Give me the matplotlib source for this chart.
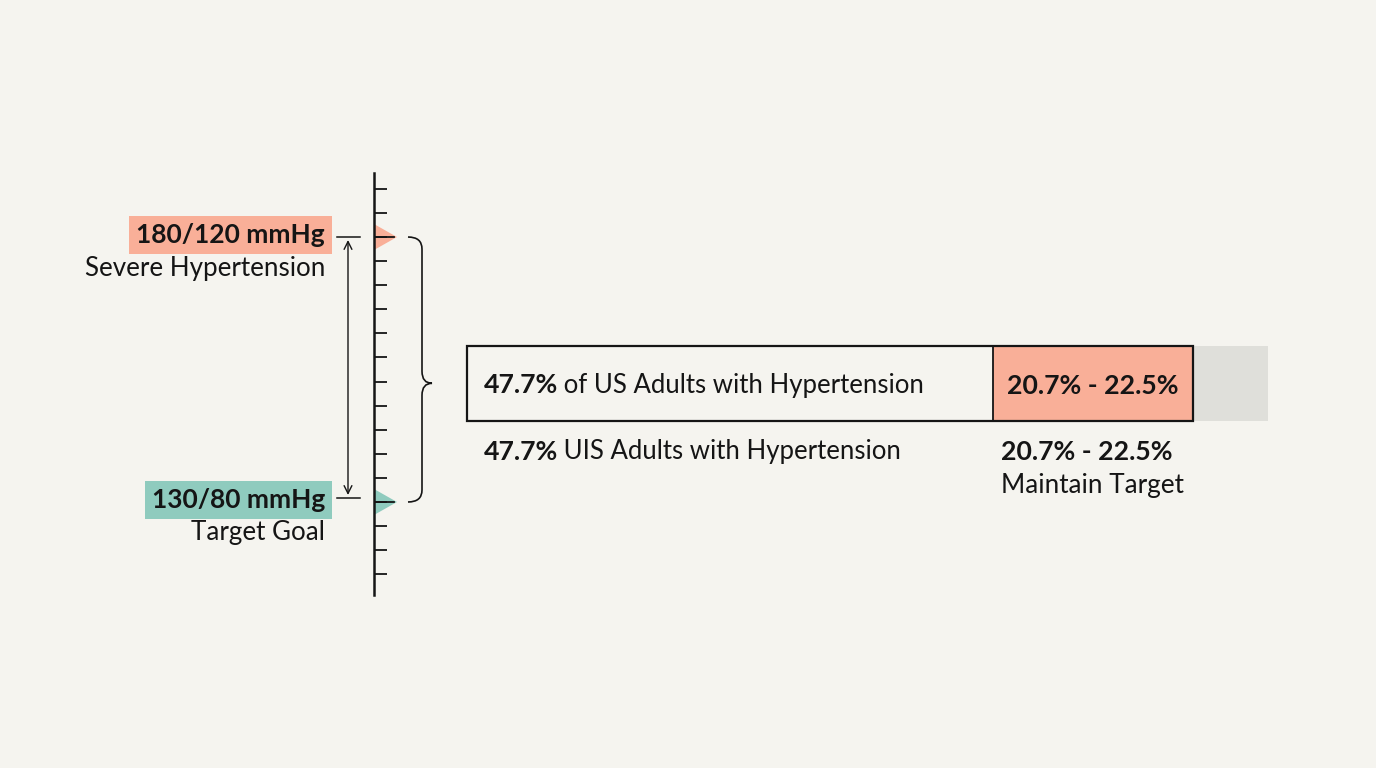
import matplotlib
matplotlib.use("Agg")
import matplotlib.pyplot as plt
import numpy as np
from matplotlib.patches import Polygon, Rectangle, PathPatch
from matplotlib.path import Path

# ---- data ----
severe_value = 180          # systolic mmHg
severe_label = "180/120 mmHg"
severe_desc = "Severe Hypertension"
target_value = 130
target_label = "130/80 mmHg"
target_desc = "Target Goal"
gauge_range = (112.45, 192.08)
tick_step = 50 / 11
tick_values = [severe_value - k * tick_step for k in range(-2, 15)]

bar_segments = [65.7, 24.9, 9.4]     # visual share of the bar
bar_main_pct = "47.7%"
bar_main_text = " of US Adults with Hypertension"
bar_range_text = "20.7% - 22.5%"
below_main_text = " UIS Adults with Hypertension"
below_desc = "Maintain Target"

# ---- style ----
BG = "#F5F4EF"
SALMON = "#F9AF98"
TEAL = "#8FCBBE"
GREY = "#DFDFDA"
INK = "#151515"
FONT = "Lato"
FS_REG = 18.5
FS_BOLD = 19.2

W, H = 1376, 768
fig = plt.figure(figsize=(W / 100, H / 100), dpi=100, facecolor=BG)

def px_axes(x0, y0, x1, y1):
    return fig.add_axes([x0 / W, 1 - y1 / H, (x1 - x0) / W, (y1 - y0) / H])

# main overlay axes in pixel coordinates (on top of everything)
ax = fig.add_axes([0, 0, 1, 1])
ax.set_xlim(0, W)
ax.set_ylim(H, 0)
ax.axis("off")
ax.set_facecolor("none")
ax.set_zorder(10)

# ---- gauge ----
gx0, gx1 = 374, 440
ag = px_axes(gx0, 173, gx1, 595)
ag.set_facecolor("none")
for s in ["top", "right", "bottom"]:
    ag.spines[s].set_visible(False)
ag.spines["left"].set_linewidth(1.8)
ag.spines["left"].set_color(INK)
ag.set_xticks([])
ag.set_yticks(tick_values)
ag.set_xlim(0, gx1 - gx0)
ag.set_ylim(*gauge_range)
ag.tick_params(axis="y", direction="in", length=9, width=1.3, color=INK, labelleft=False)

pxu = (gauge_range[1] - gauge_range[0]) / (595 - 173)  # mmHg per px
for val, col, dy in [(severe_value, SALMON, 0), (target_value, TEAL, 4)]:
    tri = Polygon([(0, val + 13 * pxu), (23, val), (0, val - 13 * pxu)],
                  closed=True, facecolor=col, edgecolor="none", zorder=1)
    ag.add_patch(tri)
    ag.plot([0, 20], [val, val], color=INK, lw=1.3, zorder=2)
    # short reference line left of gauge
    ag.plot([-37, -14], [val + dy * pxu] * 2, color=INK, lw=1.1, clip_on=False)

# double arrow
ag.annotate("", xy=(-26, severe_value - 3 * pxu), xytext=(-26, target_value + 7 * pxu),
            arrowprops=dict(arrowstyle="<->", color=INK, lw=1.0,
                            mutation_scale=14, shrinkA=0, shrinkB=0),
            annotation_clip=False)

# curly brace (its point aims at the bar centre)
top = severe_value
bot = target_value
mid = (top + bot) / 2 - 2.6
bx0, bx1, bxm = 34, 48, 58
r = 12 * pxu
verts = [
    (bx0, top), (bx1, top), (bx1, top - r),
    (bx1, mid + r),
    (bx1, mid), (bxm, mid),
    (bx1, mid), (bx1, mid - r),
    (bx1, bot + r),
    (bx1, bot), (bx0, bot),
]
codes = [Path.MOVETO, Path.CURVE3, Path.CURVE3,
         Path.LINETO,
         Path.CURVE3, Path.CURVE3,
         Path.CURVE3, Path.CURVE3,
         Path.LINETO,
         Path.CURVE3, Path.CURVE3]
ag.add_patch(PathPatch(Path(verts, codes), facecolor="none", edgecolor=INK,
                       lw=1.2, clip_on=False))

# gauge labels (pixel axes)
def y_of(v):
    return 173 + (gauge_range[1] - v) / pxu

for val, lab, desc, col in [(severe_value, severe_label, severe_desc, SALMON),
                            (target_value, target_label, target_desc, TEAL)]:
    yy = y_of(val)
    ax.text(325, yy - 2, lab, ha="right", va="center", fontsize=19, fontweight="bold",
            family=FONT, color=INK,
            bbox=dict(boxstyle="square,pad=0.27", facecolor=col, edgecolor="none"))
    ax.text(325, yy + 31, desc, ha="right", va="center", fontsize=18.7,
            family=FONT, color=INK)

# ---- bar ----
ab = px_axes(467, 346, 1268, 421)
ab.set_xlim(0, sum(bar_segments))
ab.set_ylim(-0.5, 0.5)
ab.axis("off")
lefts = np.concatenate([[0], np.cumsum(bar_segments)[:-1]])
colors = [BG, SALMON, GREY]
for l, w, c in zip(lefts, bar_segments, colors):
    ab.barh(0, w, left=l, height=1.0, color=c, edgecolor="none", zorder=1)
# outline around first two segments
ab.add_patch(Rectangle((0, -0.5), bar_segments[0] + bar_segments[1], 1.0,
                       facecolor="none", edgecolor=INK, lw=1.6, zorder=3, clip_on=False))
ab.plot([bar_segments[0]] * 2, [-0.5, 0.5], color=INK, lw=1.3, zorder=3)
ab.text(lefts[1] + bar_segments[1] / 2, -0.03, bar_range_text, ha="center", va="center",
        fontsize=FS_BOLD, fontweight="bold", family=FONT, color=INK, zorder=4)

# bold + regular text pieces
fig.canvas.draw()
renderer = fig.canvas.get_renderer()

def mixed(x, y, bold, rest):
    t = ax.text(x, y, bold, ha="left", va="center", fontsize=FS_BOLD, fontweight="bold",
                family=FONT, color=INK, zorder=5)
    bb = t.get_window_extent(renderer)
    x_end = ax.transData.inverted().transform((bb.x1, bb.y0))[0]
    ax.text(x_end - 1, y, rest, ha="left", va="center", fontsize=FS_REG,
            family=FONT, color=INK, zorder=5)

mixed(484, 385, bar_main_pct, bar_main_text)
mixed(484, 452, bar_main_pct, below_main_text)
ax.text(1001, 452, bar_range_text, ha="left", va="center", fontsize=FS_BOLD,
        fontweight="bold", family=FONT, color=INK)
ax.text(1001, 486, below_desc, ha="left", va="center", fontsize=18.8,
        family=FONT, color=INK)

fig.savefig("out.png", dpi=100, facecolor=BG)
